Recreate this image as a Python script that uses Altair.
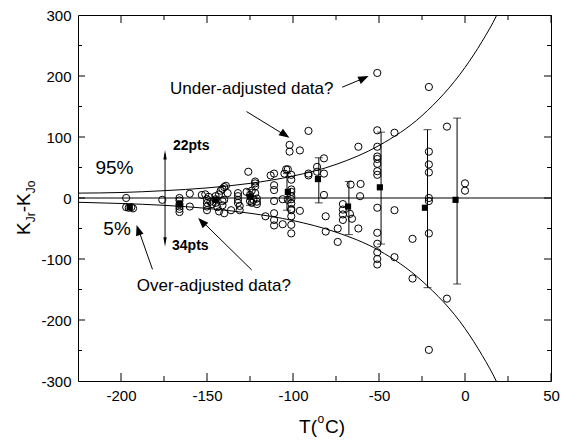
import altair as alt
import pandas as pd

FONT = "Liberation Sans"
W, H = 473, 366

# ---------------- data ----------------
scatter_T = [
    -197, -197, -195.5, -193, -194,
    -176,
    -166, -166, -166, -166, -166, -166,
    -160, -160,
    -153, -151, -150, -150, -150, -150, -149,
    -148, -147,
    -145, -145, -145, -144, -143, -143, -142, -141, -141, -141, -140, -140, -140,
    -139, -138,
    -136,
    -132, -132, -132, -132, -131, -131,
    -127, -126, -125, -125, -124, -124, -123,
    -122, -122, -122, -122, -121, -121, -121,
    -116,
    -113,
    -111, -111, -111, -111, -111, -111, -111,
    -106, -106,
    -105, -104, -103, -103,
    -102, -102,
    -101, -101, -101, -101, -101, -101, -101, -101, -101, -101, -101, -101,
    -96, -96,
    -91, -91, -91,
    -86, -86,
    -82, -82, -82, -81, -81,
    -74, -74,
    -71, -71, -71, -71,
    -66.5, -60.7, -66.9, -65.7,
    -62, -61, -62,
    -51, -51, -51, -51, -51, -51, -51, -51, -51, -51, -51, -51, -51, -51,
    -41, -41, -41,
    -30.5, -30.5,
    -21, -21, -21, -21, -21, -21, -21, -21,
    -10.5, -10.5,
    0, 0,
]
scatter_K = [
    0, -15, -16, -17, -15,
    -3,
    0, -4, -10, -14, -18, -23,
    7, -14,
    5, 6, -2, -8, -14, -20, 2,
    -6, -10,
    3, -2, -8, -15, 6, -22, 12, 15, -5, -12, 18, -3, -25,
    20, 8,
    -20,
    8, 3, -3, -8, -13, -20,
    10, 43, 5, -5, 12, -8, -3,
    27, 24, 19, 8, -1, -6, -10,
    -30,
    37,
    40, 21, 13, -5, -25, -36, -45,
    -43, -2,
    40, 47, 47, -3,
    87, 76,
    38, 30, 14, 10, 3, -2, -9, -18, -20, -30, -44, -58,
    78, -21,
    110, 40, 37,
    51, 43,
    65, 40, 5, -30, -55,
    -50, -72,
    -10, -19, -27, -36,
    22, 23, -26, -34,
    84, 3, -50,
    205, 111, 84, 68, 64, 56, 44, 38, -16, -57, -75, -89, -100, -109,
    107, -20, -97,
    -67, -132,
    182, 76, 55, 42, 0, -5, -58, -249,
    117, -165,
    24, 12,
]

mean_T = [-195, -166, -145, -125, -103, -85.5, -68, -49.5, -23.3, -5.5]
mean_K = [-15, -10, -3, 2, 10, 31, -14, 17.5, -16, -3]

err_T = [-125, -103.5, -85, -67.5, -48.8, -21.8, -4.6]
err_lo = [-12, -20, -8, -60, -75.5, -147, -141]
err_hi = [14, 40, 66, 27, 108, 112, 131]

curve_T = [-225, -200, -175, -150, -125, -100, -75, -50, -25, 0, 10, 18.5, 22]
upper_K = [8, 9, 12, 16.5, 24, 36, 55, 86, 135, 214, 257, 300, 322]
lower_K = [-7, -9, -12, -17, -25, -37, -56, -86, -136, -214, -258, -302, -324]

xtick_labels = [-200, -150, -100, -50, 0, 50]
ytick_labels = [-300, -200, -100, 0, 100, 200, 300]
xtick_major = [-200, -150, -100, -50, 0, 50]
xtick_minor = [-175, -125, -75, -25, 25]
ytick_major = [-200, -100, 0, 100, 200]
ytick_minor = [-250, -150, -50, 50, 150, 250]

label_text = ["Under-adjusted data?", "Over-adjusted data?", "95%", "5%"]
label_T = [-124, -146, -203.8, -202.3]
label_K = [178, -144, 50, -50]
label_size = [17, 17, 19, 19]

bold_text = ["22pts", "34pts"]
bold_T = [-159.2, -159.7]
bold_K = [86, -78]

arrow_T1 = [-71.4, -127, -181.7, -124, -174.4]
arrow_K1 = [181.6, 141.7, -117, -118, -72]
arrow_T2 = [-57.0, -103.5, -190.3, -154, -174.4]
arrow_K2 = [198.5, 101, -48, -35, 72]

head_T = [-58.8, -104.6, -190, -153]
head_K = [196.4, 103.4, -52.5, -38.8]
head_angle = [65, 124, 342, 316]

small_head_T = [-174.4, -174.4]
small_head_K = [71, -72]
small_head_angle = [0, 180]

# ---------------- chart ----------------
xs = alt.Scale(domain=[-225, 50], nice=False, zero=False)
ys = alt.Scale(domain=[-300, 300], nice=False, zero=False)
XAX = alt.Axis(values=xtick_labels, title=None, labelExpr="'' + datum.value")
YAX = alt.Axis(values=ytick_labels, title=None, labelExpr="'' + datum.value")


def X(f):
    return alt.X(f, type="quantitative", scale=xs, axis=XAX)


def Y(f):
    return alt.Y(f, type="quantitative", scale=ys, axis=YAX)


pts = pd.DataFrame({"T": scatter_T, "K": scatter_K})
scatter = alt.Chart(pts).mark_point(
    shape="circle", filled=False, stroke="black", strokeWidth=1, size=52, opacity=1
).encode(x=X("T"), y=Y("K"))

means = alt.Chart(pd.DataFrame({"T": mean_T, "K": mean_K})).mark_point(
    shape="square", filled=True, color="black", size=38, opacity=1
).encode(x=X("T"), y=Y("K"))

err_df = pd.DataFrame({"T": err_T, "lo": err_lo, "hi": err_hi})
err_rule = alt.Chart(err_df).mark_rule(color="black", strokeWidth=1).encode(
    x=X("T"), y=Y("lo"), y2="hi"
)
cap_lo = alt.Chart(err_df).mark_tick(color="black", orient="horizontal", thickness=1, size=8).encode(
    x=X("T"), y=Y("lo")
)
cap_hi = alt.Chart(err_df).mark_tick(color="black", orient="horizontal", thickness=1, size=8).encode(
    x=X("T"), y=Y("hi")
)

curves = pd.DataFrame({
    "T": curve_T + curve_T,
    "K": upper_K + lower_K,
    "c": ["upper"] * len(curve_T) + ["lower"] * len(curve_T),
})
curve_layer = alt.Chart(curves).mark_line(
    color="black", strokeWidth=1, interpolate="monotone", clip=True
).encode(x=X("T"), y=Y("K"), detail="c:N")

zero = alt.Chart(pd.DataFrame({"z": [0]})).mark_rule(color="black", strokeWidth=1).encode(
    y=Y("z")
)

arrows = alt.Chart(pd.DataFrame({"t1": arrow_T1, "k1": arrow_K1, "t2": arrow_T2, "k2": arrow_K2})).mark_rule(
    color="black", strokeWidth=1
).encode(x=X("t1"), y=Y("k1"), x2="t2", y2="k2")

heads = alt.Chart(pd.DataFrame({"T": head_T, "K": head_K, "a": head_angle})).mark_point(
    shape="M0,-1L0.75,1L-0.75,1Z", filled=True, color="black", size=110, opacity=1
).encode(x=X("T"), y=Y("K"), angle=alt.Angle("a:Q", scale=None))

small_heads = alt.Chart(pd.DataFrame({"T": small_head_T, "K": small_head_K, "a": small_head_angle})).mark_point(
    shape="M0,-1L0.35,1L-0.35,1Z", filled=True, color="black", size=90, opacity=1
).encode(x=X("T"), y=Y("K"), angle=alt.Angle("a:Q", scale=None))

labels = alt.Chart(pd.DataFrame({"T": label_T, "K": label_K, "s": label_size, "t": label_text})).mark_text(
    font=FONT, color="black", align="center", baseline="middle"
).encode(x=X("T"), y=Y("K"), text="t:N", size=alt.Size("s:Q", scale=None))

bold = alt.Chart(pd.DataFrame({"T": bold_T, "K": bold_K, "t": bold_text})).mark_text(
    font=FONT, color="black", align="center", baseline="middle", fontSize=14, fontWeight="bold"
).encode(x=X("T"), y=Y("K"), text="t:N")


def xticks(vals, length, top):
    y0 = 0 if top else H
    y1 = length if top else H - length
    return alt.Chart(pd.DataFrame({"T": vals})).mark_rule(color="black", strokeWidth=1).encode(
        x=X("T"), y=alt.value(y0), y2=alt.value(y1)
    )


def yticks(vals, length, right):
    x0 = W if right else 0
    x1 = W - length if right else length
    return alt.Chart(pd.DataFrame({"K": vals})).mark_rule(color="black", strokeWidth=1).encode(
        y=Y("K"), x=alt.value(x0), x2=alt.value(x1)
    )


tick_layers = [
    xticks(xtick_major, 8, False), xticks(xtick_minor, 5, False),
    xticks(xtick_major, 8, True), xticks(xtick_minor, 5, True),
    yticks(ytick_major, 7, False), yticks(ytick_minor, 4, False),
    yticks(ytick_major, 7, True), yticks(ytick_minor, 4, True),
]


def ptext(txt, x, y, size, align="left", angle=0):
    return alt.Chart(pd.DataFrame({"t": [txt]})).mark_text(
        font=FONT, color="black", fontSize=size, align=align, baseline="alphabetic", angle=angle
    ).encode(text="t:N", x=alt.value(x), y=alt.value(y))


titles = [
    # x title: T(°C) with raised small o
    ptext("T(", 239, 418, 19, align="right"),
    ptext("o", 239.5, 408, 12),
    ptext("C)", 247, 418, 19),
    # y title: K_Jr - K_Jo, rotated
    ptext("K", -48, 220, 19, angle=270),
    ptext("Jr", -43, 207.3, 12, angle=270),
    ptext("-K", -48, 197.3, 19, angle=270),
    ptext("Jo", -43, 178.3, 12, angle=270),
]

chart = alt.layer(
    scatter, curve_layer, zero, err_rule, cap_lo, cap_hi, means, arrows, heads, small_heads,
    labels, bold, *tick_layers, *titles
).properties(
    width=W, height=H,
    autosize=alt.AutoSizeParams(type="none"),
    padding={"left": 70, "top": 7, "right": 10, "bottom": 58},
).configure_view(
    stroke="black", strokeWidth=1
).configure_axis(
    labelFont=FONT, labelFontSize=15, labelColor="black", ticks=False, tickSize=0,
    domain=False, grid=False, labelFlush=False, labelPadding=7
)

chart.save("out.html", embed_options={"renderer": "svg", "actions": False})
